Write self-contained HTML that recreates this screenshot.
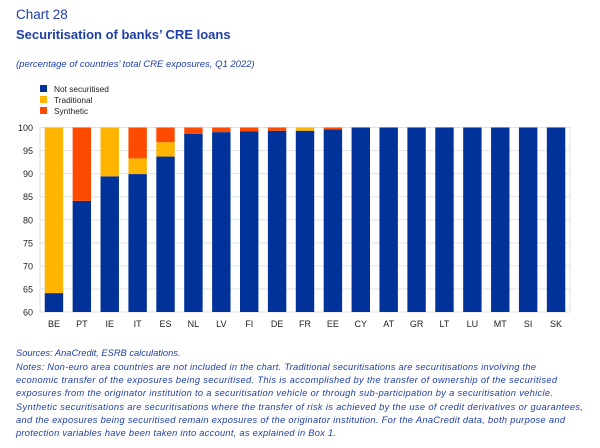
<!DOCTYPE html>
<html><head><meta charset="utf-8"><style>
body{margin:0;background:#fff;}
svg{display:block;font-family:"Liberation Sans",sans-serif;}
</style></head><body>
<svg id="chart" width="600" height="448" viewBox="0 0 600 448">
<text x="16" y="19" font-size="13.5" fill="#1f3fa8">Chart 28</text>
<text x="16" y="39" font-size="13" font-weight="bold" fill="#1f3fa8">Securitisation of banks’ CRE loans</text>
<text x="16" y="67" font-size="9.5" font-style="italic" fill="#1f3fa8">(percentage of countries’ total CRE exposures, Q1 2022)</text>
<g id="legend"></g>
<g id="grid"></g>
<g id="bars"></g>
<g id="yaxis"></g>
<g id="xaxis"></g>
<g font-size="9.3" font-style="italic" fill="#1f3fa8">
<text x="16" y="356">Sources: AnaCredit, ESRB calculations.</text>
<text x="16" y="370" textLength="520">Notes: Non-euro area countries are not included in the chart. Traditional securitisations are securitisations involving the</text>
<text x="16" y="383" textLength="541">economic transfer of the exposures being securitised. This is accomplished by the transfer of ownership of the securitised</text>
<text x="16" y="396" textLength="537">exposures from the originator institution to a securitisation vehicle or through sub-participation by a securitisation vehicle.</text>
<text x="16" y="410" textLength="567">Synthetic securitisations are securitisations where the transfer of risk is achieved by the use of credit derivatives or guarantees,</text>
<text x="16" y="423" textLength="549">and the exposures being securitised remain exposures of the originator institution. For the AnaCredit data, both purpose and</text>
<text x="16" y="436" textLength="320">protection variables have been taken into account, as explained in Box 1.</text>
</g>
</svg>
<script>
const categories=["BE","PT","IE","IT","ES","NL","LV","FI","DE","FR","EE","CY","AT","GR","LT","LU","MT","SI","SK"];
const notSecuritised=[64.1,84.1,89.4,89.9,93.7,98.6,99.0,99.2,99.3,99.3,99.6,100,100,100,100,100,100,100,100];
const traditional=[35.9,0,10.6,3.4,3.1,0,0,0,0,0.7,0,0,0,0,0,0,0,0,0];
const synthetic=[0,15.9,0,6.7,3.2,1.4,1.0,0.8,0.7,0,0.4,0,0,0,0,0,0,0,0];
const yTicks=[60,65,70,75,80,85,90,95,100];
const seriesNames=["Not securitised","Traditional","Synthetic"];
const NS="http://www.w3.org/2000/svg";
const colors=["#003299","#ffb400","#ff4b00"];
const L=40,R=570,T=127.5,B=312,yMin=60,yMax=100;
const band=(R-L)/categories.length,bw=band*0.66;
const y=v=>B-(Math.min(Math.max(v,yMin),yMax)-yMin)/(yMax-yMin)*(B-T);
const x=i=>L+band*i+(band-bw)/2;
function mk(tag,attrs,parent){const e=document.createElementNS(NS,tag);for(const k in attrs)e.setAttribute(k,attrs[k]);parent.appendChild(e);return e;}
const grid=document.getElementById('grid'),bars=document.getElementById('bars'),ya=document.getElementById('yaxis'),xa=document.getElementById('xaxis'),lg=document.getElementById('legend');
yTicks.forEach(t=>{
 const l=mk('line',{x1:L,x2:R,y1:y(t),y2:y(t),stroke:'#e2e2e2','stroke-width':1},grid);
 
 
 const tx=mk('text',{x:L-7,y:y(t)+3.5,'font-size':9,'text-anchor':'end',fill:'#222'},ya);
 tx.textContent=t;
 
 
});
mk('line',{x1:L,x2:L,y1:T,y2:B,stroke:'#e2e2e2'},grid);
mk('line',{x1:R,x2:R,y1:T,y2:B,stroke:'#e2e2e2'},grid);
categories.forEach((c,i)=>{
 const series=[notSecuritised[i],traditional[i],synthetic[i]];
 let base=0;
 series.forEach((v,s)=>{
  if(v<=0)return;
  const lo=base,hi=base+v;
  base=hi;
  const h=y(lo)-y(hi);
  if(h<=0)return;
  const r=mk('rect',{x:x(i),y:y(hi),width:bw,height:h,fill:colors[s]},bars);
  
  
 });
 const tx=mk('text',{x:x(i)+bw/2,y:B+15,'font-size':9,'text-anchor':'middle',fill:'#222'},xa);
 tx.textContent=c;
 
 
});
seriesNames.forEach((n,s)=>{
 const g=mk('g',{},lg);
 
 
 mk('rect',{x:40,y:85+s*11,width:7,height:7,fill:colors[s]},g);
 const t=mk('text',{x:54,y:92+s*11,'font-size':8.3,fill:'#222'},g);
 t.textContent=n;
});
</script>
</body></html>
